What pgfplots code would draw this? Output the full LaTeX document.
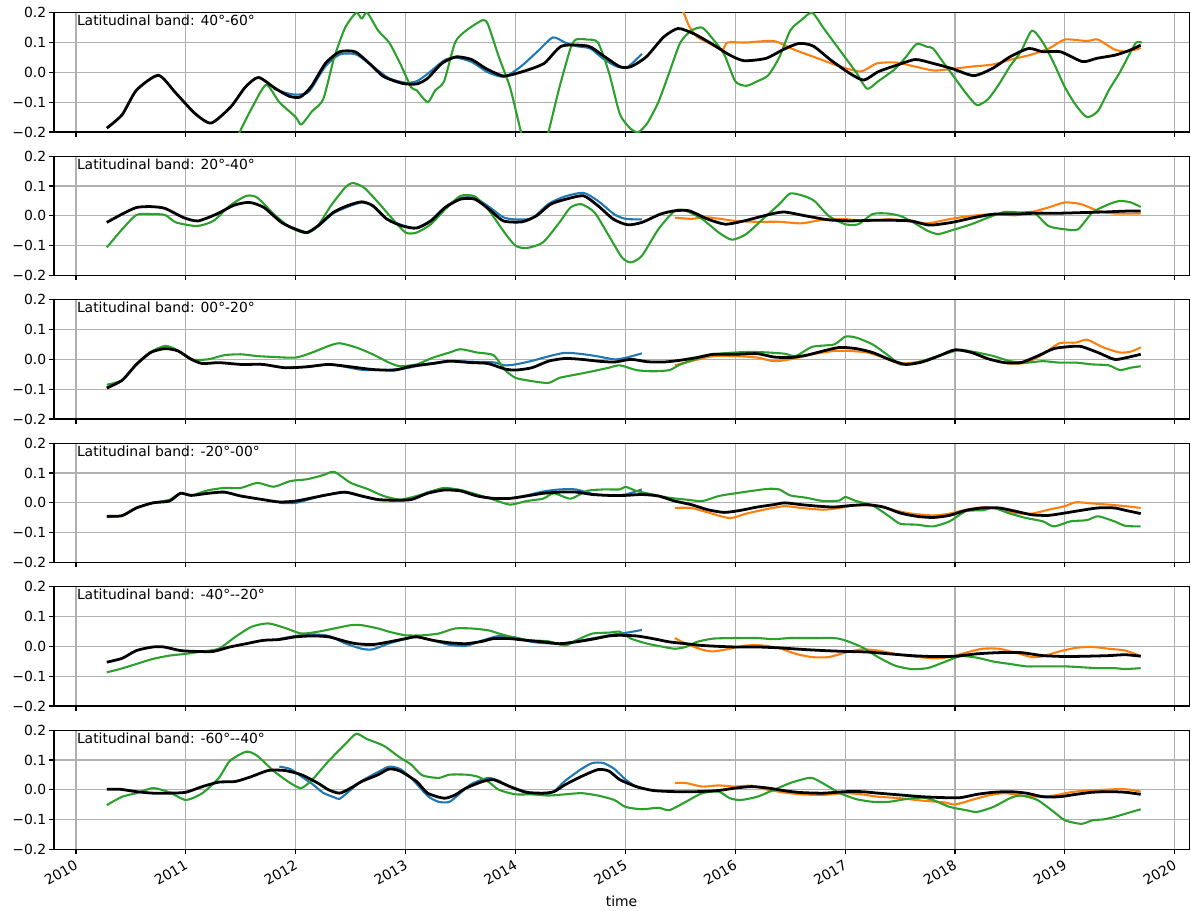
\documentclass[border=0pt]{standalone}
\usepackage{pgfplots}
\pgfplotsset{compat=1.18}
\usepackage{fontspec}
\setmainfont{DejaVu Sans}[Ligatures=TeXOff]
\definecolor{cA}{HTML}{1F77B4}
\definecolor{cB}{HTML}{FF7F0E}
\definecolor{cC}{HTML}{2CA02C}
\definecolor{gridgray}{HTML}{B0B0B0}
\pgfplotsset{
  panel/.style={
    scale only axis, width=817.2pt, height=85.9pt,
    xmin=2009.8, xmax=2020.13, ymin=-0.2, ymax=0.2,
    xtick={2010,2011,2012,2013,2014,2015,2016,2017,2018,2019,2020},
    xticklabels={},
    ytick={-0.2,-0.1,0,0.1,0.2},
    yticklabels={−0.2,−0.1,0.0,0.1,0.2},
    grid=major, grid style={color=gridgray, line width=0.8pt},
    axis line style={line width=0.8pt},
    tick pos=left, tick align=outside, major tick length=3.5pt,
    every tick/.style={black, line width=0.8pt},
    ticklabel style={font=\fontsize{10}{12}\selectfont},
    yticklabel style={inner sep=1pt, xshift=-1pt},
    anchor=north west,
    every axis plot/.append style={line width=1.5pt, line join=round, mark=none, smooth, tension=0.4},
  },
  blk/.style={black, line width=2pt},
}
\newcommand{\band}[1]{\node[anchor=north west, inner sep=0pt, font=\fontsize{10}{12}\selectfont] at (rel axis cs:0.02,0.982) {Latitudinal band: #1};}
\begin{document}
\begin{tikzpicture}
\useasboundingbox (-38.9pt,9.14pt) rectangle (818.6pt,-646.06pt);
% ---------- Panel 1: 40-60
\begin{axis}[panel, at={(0pt,0pt)}]
\addplot[cA] coordinates {(2011.8,-0.055)(2011.9,-0.068)(2012.0,-0.075)(2012.1,-0.07)(2012.15,-0.05)(2012.27,0.02)(2012.4,0.06)(2012.55,0.06)(2012.7,0.02)(2012.85,-0.02)(2013.0,-0.035)(2013.1,-0.03)(2013.2,-0.005)(2013.35,0.04)(2013.45,0.05)(2013.6,0.035)(2013.75,0.0)(2013.9,-0.015)(2014.05,0.02)(2014.2,0.07)(2014.34,0.117)(2014.45,0.1)(2014.55,0.088)(2014.68,0.08)(2014.8,0.045)(2014.92,0.02)(2015.02,0.018)(2015.15,0.062)};
\addplot[cB] coordinates {(2015.48,0.23)(2015.53,0.2)(2015.58,0.155)(2015.65,0.12)(2015.75,0.1)(2015.88,0.076)(2015.93,0.1)(2016.1,0.1)(2016.35,0.105)(2016.53,0.077)(2016.78,0.043)(2016.95,0.02)(2017.14,0.003)(2017.29,0.03)(2017.46,0.033)(2017.63,0.02)(2017.81,0.006)(2017.98,0.012)(2018.17,0.02)(2018.34,0.026)(2018.51,0.043)(2018.69,0.059)(2018.86,0.081)(2019.0,0.11)(2019.2,0.105)(2019.3,0.11)(2019.45,0.077)(2019.56,0.07)(2019.69,0.081)};
\addplot[cC] coordinates {(2011.45,-0.24)(2011.49,-0.2)(2011.6,-0.12)(2011.73,-0.042)(2011.85,-0.1)(2012.0,-0.15)(2012.05,-0.175)(2012.15,-0.13)(2012.25,-0.09)(2012.35,0.05)(2012.45,0.15)(2012.55,0.2)(2012.6,0.18)(2012.65,0.2)(2012.75,0.14)(2012.85,0.1)(2012.95,0.03)(2013.05,-0.05)(2013.1,-0.06)(2013.2,-0.1)(2013.27,-0.06)(2013.35,-0.03)(2013.45,0.1)(2013.55,0.14)(2013.7,0.175)(2013.75,0.16)(2013.85,0.05)(2013.95,-0.05)(2014.05,-0.2)(2014.1,-0.26)(2014.25,-0.26)(2014.3,-0.2)(2014.4,-0.05)(2014.5,0.08)(2014.55,0.11)(2014.65,0.11)(2014.75,0.1)(2014.85,0.0)(2014.95,-0.14)(2015.05,-0.19)(2015.12,-0.2)(2015.2,-0.17)(2015.3,-0.1)(2015.4,0.0)(2015.5,0.1)(2015.6,0.14)(2015.7,0.15)(2015.8,0.11)(2015.9,0.06)(2016.0,-0.03)(2016.1,-0.045)(2016.2,-0.03)(2016.3,-0.01)(2016.4,0.05)(2016.5,0.14)(2016.6,0.175)(2016.7,0.2)(2016.8,0.15)(2016.9,0.1)(2017.0,0.05)(2017.1,0.0)(2017.2,-0.055)(2017.3,-0.03)(2017.45,0.01)(2017.55,0.05)(2017.65,0.095)(2017.75,0.085)(2017.8,0.08)(2017.9,0.03)(2018.0,-0.02)(2018.1,-0.07)(2018.2,-0.11)(2018.3,-0.09)(2018.4,-0.04)(2018.5,0.02)(2018.6,0.07)(2018.7,0.14)(2018.8,0.1)(2018.9,0.03)(2019.0,-0.05)(2019.1,-0.11)(2019.2,-0.15)(2019.3,-0.13)(2019.4,-0.06)(2019.5,0.0)(2019.6,0.07)(2019.65,0.1)(2019.7,0.1)};
\addplot[blk] coordinates {(2010.28,-0.187)(2010.42,-0.142)(2010.55,-0.06)(2010.75,-0.01)(2010.91,-0.07)(2011.08,-0.137)(2011.23,-0.17)(2011.41,-0.115)(2011.54,-0.05)(2011.66,-0.017)(2011.81,-0.053)(2011.94,-0.08)(2012.04,-0.083)(2012.14,-0.048)(2012.27,0.03)(2012.4,0.069)(2012.54,0.069)(2012.67,0.03)(2012.8,-0.014)(2012.97,-0.037)(2013.1,-0.039)(2013.2,-0.02)(2013.33,0.03)(2013.46,0.052)(2013.6,0.043)(2013.73,0.013)(2013.89,-0.012)(2014.06,0.002)(2014.26,0.03)(2014.42,0.088)(2014.66,0.088)(2014.79,0.058)(2014.95,0.019)(2015.05,0.019)(2015.19,0.052)(2015.35,0.119)(2015.48,0.147)(2015.62,0.13)(2015.78,0.097)(2015.95,0.058)(2016.08,0.039)(2016.28,0.047)(2016.44,0.077)(2016.58,0.097)(2016.71,0.088)(2016.87,0.041)(2017.04,-0.003)(2017.17,-0.026)(2017.3,0.002)(2017.47,0.024)(2017.64,0.043)(2017.8,0.03)(2017.97,0.013)(2018.17,-0.011)(2018.34,0.013)(2018.5,0.052)(2018.67,0.08)(2018.8,0.069)(2018.96,0.069)(2019.16,0.036)(2019.29,0.047)(2019.46,0.058)(2019.59,0.074)(2019.69,0.091)};
\band{40°-60°}
\end{axis}
% ---------- Panel 2: 20-40
\begin{axis}[panel, at={(0pt,-103.32pt)}]
\addplot[cA] coordinates {(2011.9,-0.03)(2012.1,-0.055)(2012.2,-0.036)(2012.34,0.008)(2012.47,0.03)(2012.6,0.045)(2012.7,0.035)(2012.83,-0.01)(2013.0,-0.035)(2013.1,-0.04)(2013.23,-0.015)(2013.36,0.03)(2013.5,0.06)(2013.63,0.06)(2013.76,0.03)(2013.89,-0.005)(2014.0,-0.012)(2014.15,-0.008)(2014.3,0.04)(2014.45,0.065)(2014.62,0.077)(2014.75,0.05)(2014.9,0.005)(2015.0,-0.01)(2015.15,-0.012)};
\addplot[cB] coordinates {(2015.45,-0.006)(2015.6,-0.01)(2015.75,-0.005)(2016.0,-0.017)(2016.2,-0.02)(2016.4,-0.02)(2016.6,-0.025)(2016.8,-0.013)(2017.0,-0.011)(2017.2,-0.017)(2017.4,-0.011)(2017.55,-0.017)(2017.75,-0.025)(2017.95,-0.011)(2018.15,0.0)(2018.35,0.006)(2018.55,0.002)(2018.7,0.013)(2018.85,0.028)(2019.0,0.045)(2019.15,0.039)(2019.3,0.017)(2019.45,0.008)(2019.69,0.008)};
\addplot[cC] coordinates {(2010.28,-0.106)(2010.42,-0.045)(2010.55,0.003)(2010.68,0.006)(2010.81,0.003)(2010.91,-0.022)(2011.1,-0.034)(2011.25,-0.017)(2011.4,0.034)(2011.55,0.067)(2011.65,0.061)(2011.8,0.006)(2011.95,-0.039)(2012.1,-0.058)(2012.2,-0.034)(2012.32,0.034)(2012.45,0.095)(2012.52,0.11)(2012.62,0.095)(2012.75,0.045)(2012.87,-0.006)(2013.0,-0.056)(2013.1,-0.056)(2013.23,-0.028)(2013.36,0.022)(2013.5,0.067)(2013.63,0.065)(2013.76,0.017)(2013.9,-0.056)(2014.0,-0.1)(2014.1,-0.108)(2014.25,-0.089)(2014.4,-0.022)(2014.5,0.028)(2014.6,0.039)(2014.72,0.011)(2014.85,-0.067)(2014.97,-0.14)(2015.05,-0.156)(2015.15,-0.134)(2015.3,-0.045)(2015.45,0.017)(2015.55,0.017)(2015.7,-0.011)(2015.85,-0.056)(2015.97,-0.08)(2016.1,-0.061)(2016.25,-0.011)(2016.4,0.039)(2016.5,0.075)(2016.62,0.067)(2016.72,0.05)(2016.85,0.0)(2017.0,-0.028)(2017.12,-0.028)(2017.25,0.006)(2017.38,0.008)(2017.5,0.0)(2017.62,-0.022)(2017.75,-0.05)(2017.85,-0.061)(2018.0,-0.045)(2018.15,-0.028)(2018.3,-0.006)(2018.45,0.013)(2018.6,0.011)(2018.72,0.011)(2018.85,-0.034)(2019.0,-0.045)(2019.12,-0.045)(2019.25,0.011)(2019.4,0.039)(2019.5,0.05)(2019.6,0.045)(2019.69,0.03)};
\addplot[blk] coordinates {(2010.28,-0.022)(2010.42,0.006)(2010.55,0.028)(2010.68,0.031)(2010.81,0.025)(2010.98,-0.006)(2011.11,-0.017)(2011.28,0.006)(2011.44,0.036)(2011.58,0.045)(2011.71,0.028)(2011.87,-0.022)(2012.0,-0.045)(2012.1,-0.056)(2012.2,-0.034)(2012.34,0.011)(2012.47,0.034)(2012.6,0.047)(2012.7,0.034)(2012.83,-0.011)(2012.97,-0.034)(2013.1,-0.041)(2013.23,-0.017)(2013.36,0.028)(2013.5,0.056)(2013.63,0.056)(2013.76,0.022)(2013.89,-0.017)(2014.06,-0.02)(2014.19,0.0)(2014.32,0.039)(2014.46,0.056)(2014.62,0.067)(2014.75,0.034)(2014.89,-0.011)(2015.02,-0.03)(2015.15,-0.022)(2015.32,0.006)(2015.45,0.017)(2015.58,0.017)(2015.75,-0.011)(2015.91,-0.028)(2016.08,-0.017)(2016.28,0.002)(2016.44,0.013)(2016.64,0.0)(2016.84,-0.013)(2017.04,-0.017)(2017.24,-0.015)(2017.44,-0.015)(2017.6,-0.017)(2017.77,-0.031)(2017.97,-0.022)(2018.17,-0.006)(2018.36,0.006)(2018.56,0.006)(2018.74,0.009)(2018.96,0.009)(2019.16,0.011)(2019.36,0.013)(2019.56,0.016)(2019.69,0.016)};
\band{20°-40°}
\end{axis}
% ---------- Panel 3: 00-20
\begin{axis}[panel, at={(0pt,-206.64pt)}]
\addplot[cA] coordinates {(2011.9,-0.028)(2012.1,-0.025)(2012.3,-0.017)(2012.45,-0.025)(2012.6,-0.035)(2012.8,-0.036)(2013.0,-0.03)(2013.2,-0.015)(2013.4,-0.006)(2013.6,-0.008)(2013.8,-0.01)(2013.9,-0.02)(2014.0,-0.017)(2014.15,-0.005)(2014.3,0.01)(2014.45,0.022)(2014.6,0.018)(2014.75,0.01)(2014.9,0.0)(2015.0,0.005)(2015.15,0.02)};
\addplot[cB] coordinates {(2015.45,-0.02)(2015.6,-0.006)(2015.8,0.011)(2016.0,0.011)(2016.2,0.006)(2016.35,-0.006)(2016.5,0.0)(2016.7,0.017)(2016.9,0.028)(2017.05,0.028)(2017.2,0.023)(2017.35,0.006)(2017.5,-0.014)(2017.7,-0.006)(2017.85,0.011)(2018.0,0.032)(2018.15,0.023)(2018.3,0.002)(2018.5,-0.014)(2018.65,-0.011)(2018.8,0.017)(2018.95,0.054)(2019.1,0.056)(2019.2,0.066)(2019.35,0.04)(2019.5,0.023)(2019.6,0.026)(2019.69,0.04)};
\addplot[cC] coordinates {(2010.28,-0.085)(2010.42,-0.07)(2010.55,-0.015)(2010.68,0.025)(2010.81,0.045)(2010.9,0.035)(2011.05,0.0)(2011.2,0.0)(2011.35,0.014)(2011.5,0.017)(2011.65,0.011)(2011.8,0.008)(2012.0,0.006)(2012.15,0.023)(2012.3,0.045)(2012.4,0.054)(2012.55,0.04)(2012.7,0.017)(2012.85,-0.011)(2012.95,-0.023)(2013.1,-0.017)(2013.25,0.006)(2013.4,0.023)(2013.5,0.034)(2013.65,0.023)(2013.8,0.014)(2013.9,-0.034)(2014.0,-0.062)(2014.15,-0.073)(2014.3,-0.079)(2014.4,-0.062)(2014.55,-0.051)(2014.7,-0.04)(2014.85,-0.028)(2014.95,-0.02)(2015.1,-0.036)(2015.25,-0.04)(2015.4,-0.036)(2015.5,-0.017)(2015.65,0.002)(2015.8,0.017)(2016.0,0.023)(2016.15,0.025)(2016.3,0.023)(2016.45,0.019)(2016.55,0.011)(2016.7,0.042)(2016.9,0.05)(2017.0,0.076)(2017.1,0.073)(2017.25,0.05)(2017.4,0.011)(2017.5,-0.017)(2017.65,-0.011)(2017.8,0.006)(2017.95,0.023)(2018.05,0.032)(2018.2,0.023)(2018.35,0.011)(2018.5,-0.006)(2018.65,-0.011)(2018.8,-0.006)(2018.95,-0.011)(2019.1,-0.011)(2019.25,-0.017)(2019.4,-0.02)(2019.5,-0.036)(2019.6,-0.028)(2019.69,-0.023)};
\addplot[blk] coordinates {(2010.28,-0.096)(2010.42,-0.07)(2010.55,-0.017)(2010.68,0.023)(2010.81,0.036)(2010.93,0.028)(2011.05,0.0)(2011.15,-0.014)(2011.3,-0.011)(2011.5,-0.017)(2011.7,-0.017)(2011.9,-0.028)(2012.1,-0.025)(2012.3,-0.017)(2012.5,-0.025)(2012.7,-0.034)(2012.9,-0.036)(2013.05,-0.023)(2013.25,-0.014)(2013.4,-0.006)(2013.6,-0.011)(2013.75,-0.014)(2013.9,-0.032)(2014.0,-0.036)(2014.15,-0.028)(2014.3,-0.006)(2014.45,0.003)(2014.6,0.0)(2014.75,-0.006)(2014.9,-0.009)(2015.05,0.0)(2015.2,-0.008)(2015.35,-0.009)(2015.5,-0.003)(2015.65,0.006)(2015.8,0.017)(2016.0,0.017)(2016.2,0.019)(2016.35,0.008)(2016.5,0.006)(2016.65,0.014)(2016.8,0.028)(2016.95,0.04)(2017.1,0.036)(2017.25,0.023)(2017.4,0.0)(2017.55,-0.017)(2017.7,-0.009)(2017.85,0.011)(2018.0,0.032)(2018.15,0.023)(2018.3,0.002)(2018.45,-0.011)(2018.6,-0.011)(2018.75,0.011)(2018.9,0.036)(2019.05,0.043)(2019.15,0.043)(2019.3,0.023)(2019.45,0.0)(2019.55,0.005)(2019.69,0.017)};
\band{00°-20°}
\end{axis}
% ---------- Panel 4: -20-00
\begin{axis}[panel, at={(0pt,-309.96pt)}]
\addplot[cA] coordinates {(2011.85,0.0)(2012.0,0.0)(2012.15,0.015)(2012.3,0.028)(2012.45,0.035)(2012.6,0.022)(2012.75,0.01)(2012.9,0.008)(2013.05,0.012)(2013.2,0.035)(2013.35,0.048)(2013.5,0.043)(2013.65,0.025)(2013.8,0.015)(2013.95,0.015)(2014.1,0.025)(2014.25,0.038)(2014.4,0.045)(2014.55,0.045)(2014.7,0.03)(2014.85,0.025)(2015.0,0.028)(2015.15,0.045)};
\addplot[cB] coordinates {(2015.45,-0.017)(2015.6,-0.017)(2015.75,-0.032)(2015.95,-0.051)(2016.1,-0.036)(2016.3,-0.02)(2016.45,-0.011)(2016.6,-0.017)(2016.8,-0.023)(2016.95,-0.017)(2017.1,-0.008)(2017.3,-0.011)(2017.45,-0.025)(2017.6,-0.036)(2017.8,-0.042)(2017.95,-0.036)(2018.1,-0.023)(2018.25,-0.015)(2018.4,-0.02)(2018.55,-0.034)(2018.7,-0.036)(2018.85,-0.023)(2019.0,-0.011)(2019.1,0.002)(2019.25,-0.002)(2019.4,-0.006)(2019.55,-0.011)(2019.69,-0.017)};
\addplot[cC] coordinates {(2010.28,-0.048)(2010.42,-0.042)(2010.55,-0.017)(2010.7,0.0)(2010.85,0.01)(2010.95,0.032)(2011.05,0.025)(2011.2,0.042)(2011.35,0.05)(2011.5,0.05)(2011.65,0.067)(2011.8,0.054)(2011.95,0.073)(2012.1,0.079)(2012.25,0.093)(2012.35,0.104)(2012.5,0.067)(2012.65,0.047)(2012.8,0.023)(2012.95,0.011)(2013.1,0.023)(2013.25,0.04)(2013.35,0.05)(2013.5,0.043)(2013.65,0.028)(2013.8,0.011)(2013.95,-0.006)(2014.1,0.006)(2014.25,0.014)(2014.35,0.032)(2014.5,0.014)(2014.65,0.04)(2014.8,0.045)(2014.95,0.045)(2015.0,0.054)(2015.1,0.04)(2015.25,0.028)(2015.4,0.017)(2015.55,0.011)(2015.7,0.006)(2015.85,0.023)(2016.0,0.032)(2016.15,0.04)(2016.3,0.047)(2016.4,0.045)(2016.5,0.025)(2016.65,0.017)(2016.8,0.006)(2016.95,0.008)(2017.0,0.02)(2017.1,0.006)(2017.25,-0.009)(2017.4,-0.045)(2017.5,-0.07)(2017.65,-0.073)(2017.8,-0.079)(2017.95,-0.062)(2018.1,-0.028)(2018.25,-0.025)(2018.35,-0.017)(2018.5,-0.036)(2018.65,-0.051)(2018.8,-0.062)(2018.9,-0.079)(2019.05,-0.062)(2019.2,-0.058)(2019.3,-0.045)(2019.45,-0.062)(2019.55,-0.077)(2019.69,-0.079)};
\addplot[blk] coordinates {(2010.28,-0.045)(2010.42,-0.043)(2010.55,-0.017)(2010.7,0.0)(2010.85,0.006)(2010.95,0.032)(2011.05,0.025)(2011.2,0.032)(2011.35,0.036)(2011.5,0.023)(2011.7,0.011)(2011.85,0.003)(2012.0,0.006)(2012.15,0.017)(2012.3,0.028)(2012.45,0.036)(2012.6,0.023)(2012.75,0.011)(2012.9,0.009)(2013.05,0.011)(2013.2,0.032)(2013.35,0.043)(2013.5,0.04)(2013.65,0.023)(2013.8,0.015)(2013.95,0.015)(2014.1,0.023)(2014.25,0.032)(2014.4,0.036)(2014.55,0.036)(2014.7,0.028)(2014.85,0.025)(2015.0,0.025)(2015.15,0.028)(2015.3,0.023)(2015.45,0.006)(2015.6,-0.006)(2015.75,-0.023)(2015.9,-0.032)(2016.05,-0.025)(2016.2,-0.014)(2016.35,-0.006)(2016.45,0.0)(2016.6,-0.006)(2016.75,-0.011)(2016.9,-0.014)(2017.05,-0.009)(2017.2,-0.006)(2017.35,-0.014)(2017.5,-0.034)(2017.65,-0.045)(2017.8,-0.049)(2017.95,-0.042)(2018.1,-0.025)(2018.25,-0.017)(2018.4,-0.017)(2018.55,-0.028)(2018.7,-0.04)(2018.85,-0.042)(2019.0,-0.034)(2019.15,-0.025)(2019.3,-0.017)(2019.45,-0.017)(2019.55,-0.025)(2019.69,-0.036)};
\band{-20°-00°}
\end{axis}
% ---------- Panel 5: -40--20
\begin{axis}[panel, at={(0pt,-413.28pt)}]
\addplot[cA] coordinates {(2011.85,0.025)(2012.0,0.035)(2012.15,0.04)(2012.3,0.035)(2012.45,0.01)(2012.6,-0.008)(2012.7,-0.01)(2012.85,0.01)(2013.0,0.025)(2013.1,0.032)(2013.25,0.02)(2013.4,0.005)(2013.55,0.002)(2013.7,0.02)(2013.85,0.035)(2014.0,0.03)(2014.15,0.015)(2014.3,0.01)(2014.45,0.01)(2014.6,0.02)(2014.75,0.03)(2014.9,0.04)(2015.0,0.045)(2015.15,0.055)};
\addplot[cB] coordinates {(2015.45,0.028)(2015.55,0.009)(2015.7,-0.011)(2015.8,-0.017)(2015.95,-0.008)(2016.1,0.003)(2016.25,0.003)(2016.4,-0.006)(2016.55,-0.025)(2016.7,-0.036)(2016.85,-0.036)(2017.0,-0.021)(2017.15,-0.01)(2017.3,-0.014)(2017.45,-0.025)(2017.6,-0.033)(2017.8,-0.04)(2017.95,-0.036)(2018.1,-0.021)(2018.25,-0.008)(2018.4,-0.008)(2018.55,-0.021)(2018.7,-0.036)(2018.8,-0.033)(2018.95,-0.017)(2019.1,-0.005)(2019.25,-0.002)(2019.4,-0.008)(2019.55,-0.014)(2019.69,-0.033)};
\addplot[cC] coordinates {(2010.28,-0.087)(2010.4,-0.076)(2010.55,-0.059)(2010.7,-0.042)(2010.85,-0.031)(2011.0,-0.025)(2011.15,-0.017)(2011.3,-0.008)(2011.45,0.032)(2011.6,0.066)(2011.75,0.077)(2011.9,0.062)(2012.05,0.043)(2012.2,0.049)(2012.35,0.06)(2012.5,0.071)(2012.6,0.071)(2012.75,0.06)(2012.85,0.049)(2013.0,0.037)(2013.15,0.037)(2013.3,0.043)(2013.45,0.06)(2013.6,0.06)(2013.75,0.054)(2013.85,0.043)(2014.0,0.028)(2014.15,0.02)(2014.3,0.017)(2014.45,0.003)(2014.55,0.02)(2014.7,0.043)(2014.85,0.046)(2014.95,0.049)(2015.05,0.026)(2015.2,0.009)(2015.35,-0.002)(2015.45,-0.008)(2015.55,-0.002)(2015.65,0.015)(2015.8,0.026)(2016.0,0.028)(2016.2,0.028)(2016.35,0.024)(2016.5,0.028)(2016.7,0.028)(2016.9,0.028)(2017.0,0.02)(2017.15,-0.002)(2017.3,-0.036)(2017.45,-0.064)(2017.6,-0.076)(2017.75,-0.073)(2017.9,-0.053)(2018.05,-0.033)(2018.2,-0.038)(2018.35,-0.051)(2018.5,-0.059)(2018.65,-0.067)(2018.8,-0.067)(2019.0,-0.067)(2019.15,-0.07)(2019.3,-0.073)(2019.45,-0.073)(2019.55,-0.076)(2019.69,-0.073)};
\addplot[blk] coordinates {(2010.28,-0.053)(2010.42,-0.04)(2010.55,-0.014)(2010.7,-0.002)(2010.8,-0.002)(2010.95,-0.014)(2011.1,-0.017)(2011.25,-0.017)(2011.4,-0.002)(2011.55,0.009)(2011.7,0.02)(2011.85,0.023)(2012.0,0.032)(2012.15,0.035)(2012.3,0.032)(2012.45,0.017)(2012.55,0.009)(2012.7,0.006)(2012.85,0.015)(2013.0,0.026)(2013.1,0.032)(2013.25,0.02)(2013.4,0.012)(2013.55,0.009)(2013.7,0.017)(2013.8,0.026)(2013.95,0.026)(2014.1,0.02)(2014.25,0.015)(2014.4,0.009)(2014.55,0.015)(2014.7,0.024)(2014.85,0.035)(2014.95,0.037)(2015.1,0.035)(2015.25,0.026)(2015.4,0.015)(2015.55,0.009)(2015.7,0.003)(2015.85,0.0)(2016.0,-0.002)(2016.2,-0.002)(2016.4,-0.005)(2016.6,-0.01)(2016.8,-0.014)(2017.0,-0.017)(2017.2,-0.019)(2017.4,-0.025)(2017.6,-0.031)(2017.8,-0.034)(2018.0,-0.033)(2018.2,-0.025)(2018.4,-0.021)(2018.6,-0.021)(2018.8,-0.031)(2019.0,-0.034)(2019.2,-0.033)(2019.4,-0.031)(2019.55,-0.028)(2019.69,-0.033)};
\band{-40°--20°}
\end{axis}
% ---------- Panel 6: -60--40
\begin{axis}[panel, at={(0pt,-516.6pt)},
  xticklabels={2010,2011,2012,2013,2014,2015,2016,2017,2018,2019,2020},
  xticklabel style={rotate=30, anchor=north east, inner sep=1pt, yshift=-1pt, xshift=-2pt},
  xlabel={time}, xlabel style={font=\fontsize{10}{12}\selectfont, yshift=-2.5pt}]
\addplot[cA] coordinates {(2011.85,0.078)(2011.95,0.07)(2012.05,0.045)(2012.15,0.02)(2012.25,-0.01)(2012.35,-0.025)(2012.4,-0.03)(2012.5,0.0)(2012.6,0.03)(2012.75,0.06)(2012.85,0.078)(2012.95,0.07)(2013.05,0.04)(2013.2,-0.02)(2013.3,-0.04)(2013.4,-0.04)(2013.5,-0.01)(2013.6,0.02)(2013.75,0.04)(2013.85,0.03)(2013.95,0.01)(2014.1,-0.01)(2014.25,-0.015)(2014.35,-0.005)(2014.45,0.03)(2014.6,0.07)(2014.7,0.09)(2014.8,0.09)(2014.9,0.07)(2015.0,0.035)(2015.1,0.01)(2015.15,0.005)};
\addplot[cB] coordinates {(2015.45,0.023)(2015.55,0.023)(2015.7,0.011)(2015.85,0.015)(2016.0,0.011)(2016.15,0.014)(2016.3,0.0)(2016.45,-0.009)(2016.6,-0.015)(2016.8,-0.017)(2017.0,-0.011)(2017.15,-0.015)(2017.3,-0.023)(2017.5,-0.028)(2017.7,-0.036)(2017.9,-0.042)(2018.0,-0.049)(2018.15,-0.034)(2018.3,-0.019)(2018.45,-0.011)(2018.6,-0.019)(2018.75,-0.023)(2018.9,-0.019)(2019.05,-0.008)(2019.2,-0.002)(2019.35,0.0)(2019.5,0.003)(2019.6,0.0)(2019.69,-0.006)};
\addplot[cC] coordinates {(2010.28,-0.051)(2010.42,-0.023)(2010.55,-0.011)(2010.7,0.006)(2010.85,-0.008)(2011.0,-0.034)(2011.15,-0.011)(2011.3,0.04)(2011.4,0.097)(2011.55,0.128)(2011.65,0.114)(2011.8,0.063)(2011.95,0.023)(2012.05,0.006)(2012.15,0.034)(2012.3,0.097)(2012.45,0.153)(2012.55,0.188)(2012.65,0.17)(2012.8,0.148)(2012.95,0.108)(2013.05,0.085)(2013.15,0.049)(2013.3,0.04)(2013.4,0.051)(2013.55,0.051)(2013.65,0.045)(2013.75,0.028)(2013.85,0.0)(2014.0,-0.015)(2014.15,-0.015)(2014.3,-0.019)(2014.45,-0.015)(2014.6,-0.011)(2014.75,-0.019)(2014.9,-0.034)(2015.0,-0.057)(2015.15,-0.065)(2015.3,-0.06)(2015.4,-0.068)(2015.55,-0.04)(2015.7,-0.011)(2015.85,-0.006)(2015.95,-0.028)(2016.05,-0.034)(2016.2,-0.023)(2016.35,0.0)(2016.5,0.023)(2016.6,0.034)(2016.7,0.04)(2016.85,0.011)(2016.95,-0.011)(2017.1,-0.031)(2017.25,-0.04)(2017.4,-0.04)(2017.55,-0.031)(2017.7,-0.026)(2017.8,-0.034)(2017.95,-0.057)(2018.1,-0.068)(2018.2,-0.074)(2018.35,-0.057)(2018.5,-0.028)(2018.6,-0.019)(2018.75,-0.034)(2018.9,-0.074)(2019.0,-0.102)(2019.15,-0.114)(2019.25,-0.102)(2019.35,-0.099)(2019.45,-0.091)(2019.55,-0.08)(2019.69,-0.065)};
\addplot[blk] coordinates {(2010.28,0.002)(2010.4,0.002)(2010.55,-0.006)(2010.7,-0.011)(2010.85,-0.011)(2011.0,-0.008)(2011.15,0.011)(2011.3,0.026)(2011.45,0.028)(2011.6,0.045)(2011.75,0.065)(2011.9,0.065)(2012.05,0.051)(2012.2,0.023)(2012.3,0.0)(2012.4,-0.011)(2012.5,0.006)(2012.6,0.028)(2012.75,0.051)(2012.85,0.07)(2012.95,0.063)(2013.1,0.028)(2013.2,-0.011)(2013.35,-0.028)(2013.45,-0.017)(2013.55,0.006)(2013.7,0.028)(2013.8,0.034)(2013.95,0.011)(2014.1,-0.008)(2014.25,-0.011)(2014.35,-0.006)(2014.45,0.017)(2014.6,0.045)(2014.75,0.068)(2014.85,0.063)(2014.95,0.034)(2015.1,0.011)(2015.25,-0.002)(2015.45,-0.006)(2015.65,-0.006)(2015.85,-0.002)(2016.0,0.006)(2016.15,0.011)(2016.3,0.006)(2016.45,-0.003)(2016.6,-0.009)(2016.8,-0.011)(2017.0,-0.006)(2017.15,-0.006)(2017.3,-0.011)(2017.5,-0.017)(2017.7,-0.023)(2017.9,-0.026)(2018.05,-0.026)(2018.2,-0.015)(2018.35,-0.008)(2018.5,-0.006)(2018.65,-0.011)(2018.8,-0.023)(2018.95,-0.023)(2019.1,-0.015)(2019.25,-0.008)(2019.4,-0.006)(2019.55,-0.008)(2019.69,-0.015)};
\band{-60°--40°}
\end{axis}
\end{tikzpicture}
\end{document}
